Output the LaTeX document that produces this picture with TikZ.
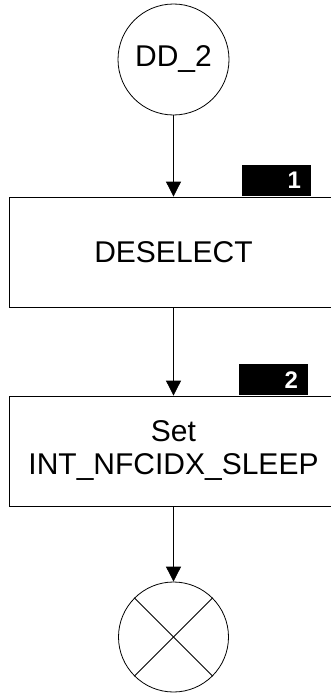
\documentclass[tikz,border=0pt]{standalone}
\usepackage{fontspec}
\setmainfont{Liberation Sans}
\usetikzlibrary{arrows.meta,positioning}

\begin{document}
\begin{tikzpicture}[x=1pt,y=1pt,>={Triangle[length=15pt,width=15pt]},line width=0.8pt]
    \tikzstyle{conn}=[circle,draw,minimum size=111pt,inner sep=0pt,font=\fontsize{30}{33}\selectfont]
    \tikzstyle{action}=[rectangle,draw,minimum width=329pt,minimum height=110pt,align=center,font=\fontsize{30}{33}\selectfont]
    \tikzstyle{tag}=[rectangle,fill=black,text=white,inner sep=0pt,inner xsep=10pt,minimum height=31pt,text width=49pt,align=right,font=\fontsize{24}{24}\selectfont\bfseries]
    \tikzstyle{flow}=[->,line width=0.8pt]

    \useasboundingbox (0,0) rectangle (331,-693);
    \clip (0,0) rectangle (331,-693);

    \node [conn] at (173.5,-59.5) (start) {DD\_2};

    \node [action] at (173.5,-252) (deselect) {DESELECT};
    \node [tag, anchor=south east] at ([xshift=-27pt]deselect.north east) (tag1) {1};

    \node [action] at (173.5,-451) (setsleep) {Set\\INT\_NFCIDX\_SLEEP};
    \node [tag, anchor=south east] at ([xshift=-30pt]setsleep.north east) (tag2) {2};

    \node [conn, minimum size=110pt] at (173.5,-637) (stop) {};
    \draw (stop.north east) -- (stop.south west);
    \draw (stop.north west) -- (stop.south east);

    \draw [flow] (start) -- (deselect);
    \draw [flow] (deselect) -- (setsleep);
    \draw [flow] (setsleep) -- (stop);

\end{tikzpicture}
\end{document}
